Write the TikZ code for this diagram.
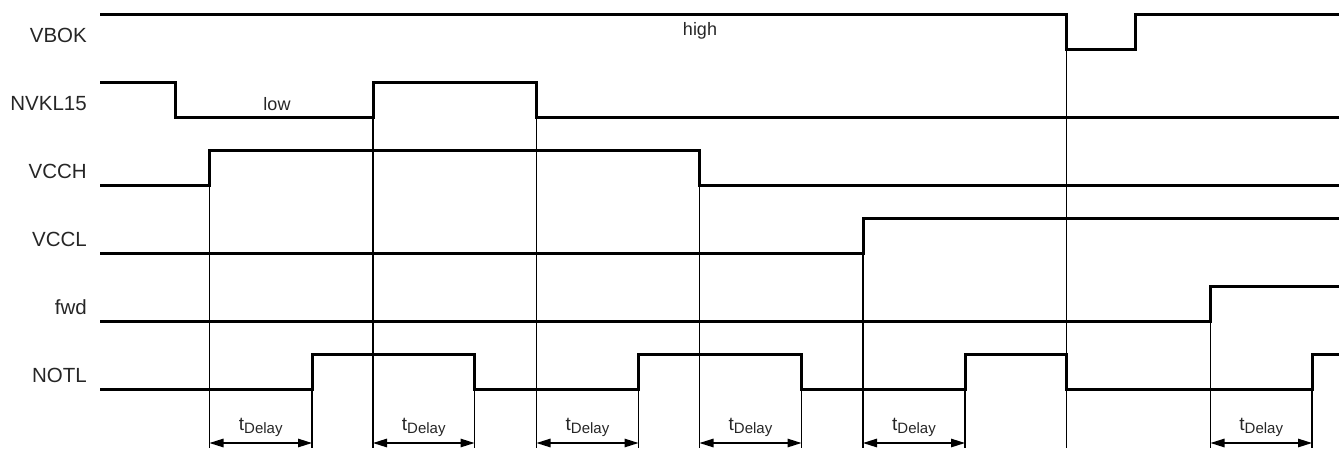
\documentclass[tikz,border=0pt]{standalone}
\usepackage{fontspec}
\setmainfont{Liberation Sans}
\usetikzlibrary{arrows.meta}
\begin{document}
\begin{tikzpicture}[x=1pt,y=-1pt,
  sig/.style={line width=3pt, line join=miter, line cap=butt},
  guide/.style={line width=1.3pt},
  dim/.style={line width=1.3pt, {Triangle[length=14pt,width=8.5pt]}-{Triangle[length=14pt,width=8.5pt]}},
  sname/.style={font=\fontsize{20.5}{21}\selectfont, anchor=base east, inner sep=0pt, text=black!85},
  lvl/.style={font=\fontsize{18}{18}\selectfont, anchor=base, inner sep=0pt, text=black!85},
  tdl/.style={font=\fontsize{19}{19}\selectfont, anchor=base, inner sep=0pt, text=black!85}]
\useasboundingbox (0,0) rectangle (1339,448);
\newcommand{\tdelay}{t\raisebox{-3.3pt}{\fontsize{15}{15}\selectfont Delay}}

% signal names
\node[sname] (nVBOK) at (87,42.5) {VBOK};
\node[sname] (nNVKL) at (87,110.5) {NVKL15};
\node[sname] (nVCCH) at (87,178.5) {VCCH};
\node[sname] (nVCCL) at (87,246.5) {VCCL};
\node[sname] (nfwd) at (87,314.5) {fwd};
\node[sname] (nNOTL) at (87,382.5) {NOTL};

% level labels
\node[lvl] (lhigh) at (700,35) {high};
\node[lvl] (llow) at (277,110) {low};

% guide lines
\foreach \x/\y in {209.5/150.7, 373/82.7, 536.5/82.7, 699.5/150.7, 863/218.7, 1066.5/49.2, 1210.5/286.7,
                   312/354.7, 474.5/354.7, 638.5/354.7, 801.5/354.7, 965/354.7, 1312/354.7}
  \draw[guide] (\x,\y) -- (\x,448);

% waveforms
\draw[sig] (100,14.7) -| (1066.5,49.2) -| (1135,14.7) -- (1339,14.7);
\draw[sig] (100,82.7) -| (175,117.2) -| (373,82.7) -| (536.5,117.2) -- (1339,117.2);
\draw[sig] (100,185.2) -| (209.5,150.7) -| (699.5,185.2) -- (1339,185.2);
\draw[sig] (100,253.2) -| (863,218.7) -- (1339,218.7);
\draw[sig] (100,321.2) -| (1210.5,286.7) -- (1339,286.7);
\draw[sig] (100,389.2) -| (312,354.7) -| (474.5,389.2) -| (638.5,354.7) -| (801.5,389.2)
  -| (965,354.7) -| (1066.5,389.2) -| (1312,354.7) -- (1339,354.7);

% delay dimensions
\foreach \a/\b/\n in {209.5/312/1, 373/474.5/2, 536.5/638.5/3, 699.5/801.5/4, 863/965/5, 1210.5/1312/6}{
  \coordinate (dA\n) at (\a,443);
  \coordinate (dB\n) at (\b,443);
  \draw[dim] (dA\n) -- (dB\n);
  \node[tdl] (td\n) at ({(\a+\b)/2},430) {\tdelay};
}
\end{tikzpicture}
\end{document}
